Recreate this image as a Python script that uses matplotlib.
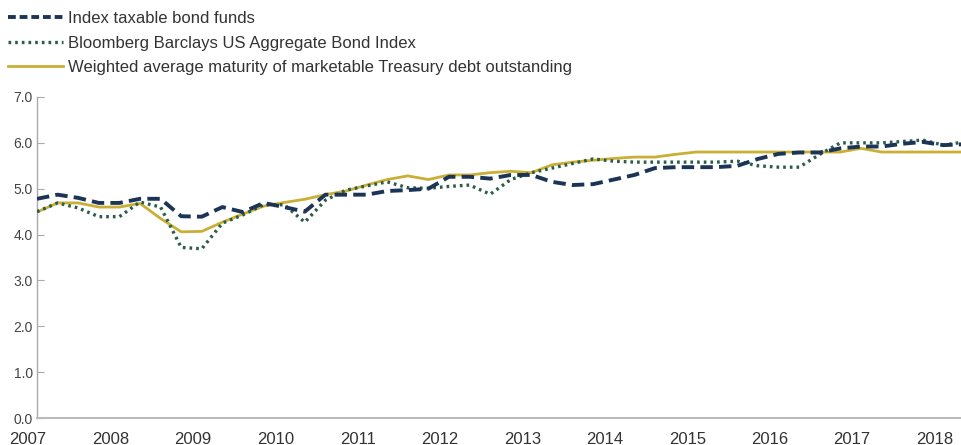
import matplotlib
matplotlib.use("Agg")
import matplotlib.pyplot as plt
import matplotlib.transforms as mtransforms
from matplotlib.lines import Line2D
import numpy as np

# quarterly observations starting 2007
start_year = 2007.0
index_funds = [4.78, 4.87, 4.80, 4.69, 4.69, 4.78, 4.78, 4.40, 4.39, 4.60,
               4.49, 4.69, 4.60, 4.50, 4.87, 4.87, 4.87, 4.95, 4.97, 5.00,
               5.26, 5.26, 5.22, 5.30, 5.30, 5.15, 5.08, 5.10, 5.20, 5.30,
               5.45, 5.47, 5.47, 5.47, 5.50, 5.65, 5.76, 5.79, 5.79, 5.88,
               5.92, 5.92, 5.98, 6.02, 5.95, 5.97]
bloomberg = [4.50, 4.69, 4.58, 4.39, 4.39, 4.71, 4.60, 3.72, 3.69, 4.25,
             4.43, 4.65, 4.65, 4.27, 4.75, 4.97, 5.06, 5.15, 5.02, 5.01,
             5.05, 5.08, 4.88, 5.20, 5.35, 5.45, 5.55, 5.65, 5.60, 5.58,
             5.58, 5.58, 5.58, 5.58, 5.60, 5.50, 5.47, 5.47, 5.75, 6.00,
             6.00, 6.00, 6.03, 6.06, 5.95, 6.02]
treasury = [4.49, 4.69, 4.69, 4.60, 4.60, 4.68, 4.35, 4.06, 4.07, 4.27,
            4.45, 4.62, 4.70, 4.77, 4.87, 4.95, 5.08, 5.20, 5.28, 5.20,
            5.30, 5.30, 5.35, 5.38, 5.35, 5.52, 5.58, 5.62, 5.66, 5.69,
            5.69, 5.75, 5.80, 5.80, 5.80, 5.80, 5.80, 5.80, 5.80, 5.80,
            5.88, 5.80, 5.80, 5.80, 5.80, 5.80]
series_labels = ["Index taxable bond funds",
                 "Bloomberg Barclays US Aggregate Bond Index",
                 "Weighted average maturity of marketable Treasury debt outstanding"]
year_ticks = list(range(2007, 2019))
y_ticks = [0, 1, 2, 3, 4, 5, 6, 7]

x = start_year + np.arange(len(index_funds)) / 4.0

navy = "#1c3557"
green = "#2b5c48"
gold = "#c9b035"
txt = "#333333"

plt.rcParams['font.family'] = ['Liberation Sans Narrow', 'Liberation Sans', 'DejaVu Sans']

fig = plt.figure(figsize=(9.62, 4.45), dpi=100)
ax = fig.add_axes([37/962, 1-418/445, 1-37/962, (418-97)/445])

ax.plot(x, treasury, color=gold, lw=2.0, zorder=2)
ax.plot(x, bloomberg, color=green, lw=2.4, dashes=(0.8, 1.2), zorder=3)
ax.plot(x, index_funds, color=navy, lw=2.8, dashes=(3.2, 1.6), zorder=4)

ax.set_xlim(2007.0, 2007.0 + 925/82.4)
ax.set_ylim(0, 7)
ax.set_yticks(y_ticks)
ax.set_yticklabels([f"{v:.1f}" for v in y_ticks])
ax.set_xticks(year_ticks)
ax.set_xticklabels([str(y) for y in year_ticks])

for s in ["top", "right"]:
    ax.spines[s].set_visible(False)
ax.spines["left"].set_color("#aaaaaa")
ax.spines["bottom"].set_color("#bbbbbb")
ax.spines["left"].set_linewidth(1.0)
ax.spines["bottom"].set_linewidth(1.5)
ax.tick_params(axis="y", direction="in", length=5, color="#aaaaaa",
               labelsize=10, labelcolor="#444444", pad=3)
ax.tick_params(axis="x", length=0, labelsize=12, labelcolor=txt, pad=10)

offset = mtransforms.ScaledTranslation(-9/100, 0, fig.dpi_scale_trans)
for lbl in ax.get_xticklabels():
    lbl.set_transform(lbl.get_transform() + offset)

handles = [
    Line2D([], [], color=navy, lw=2.8, dashes=(2.0, 1.0)),
    Line2D([], [], color=green, lw=2.4, dashes=(0.8, 1.2)),
    Line2D([], [], color=gold, lw=2.0),
]
leg = fig.legend(handles, series_labels, loc="upper left",
                 bbox_to_anchor=(-0.004, 1.001), frameon=False,
                 fontsize=12, handlelength=3.3, handletextpad=0.3,
                 labelspacing=0.56, borderaxespad=0.3)
for t in leg.get_texts():
    t.set_color(txt)

fig.savefig("out.png", dpi=100)
